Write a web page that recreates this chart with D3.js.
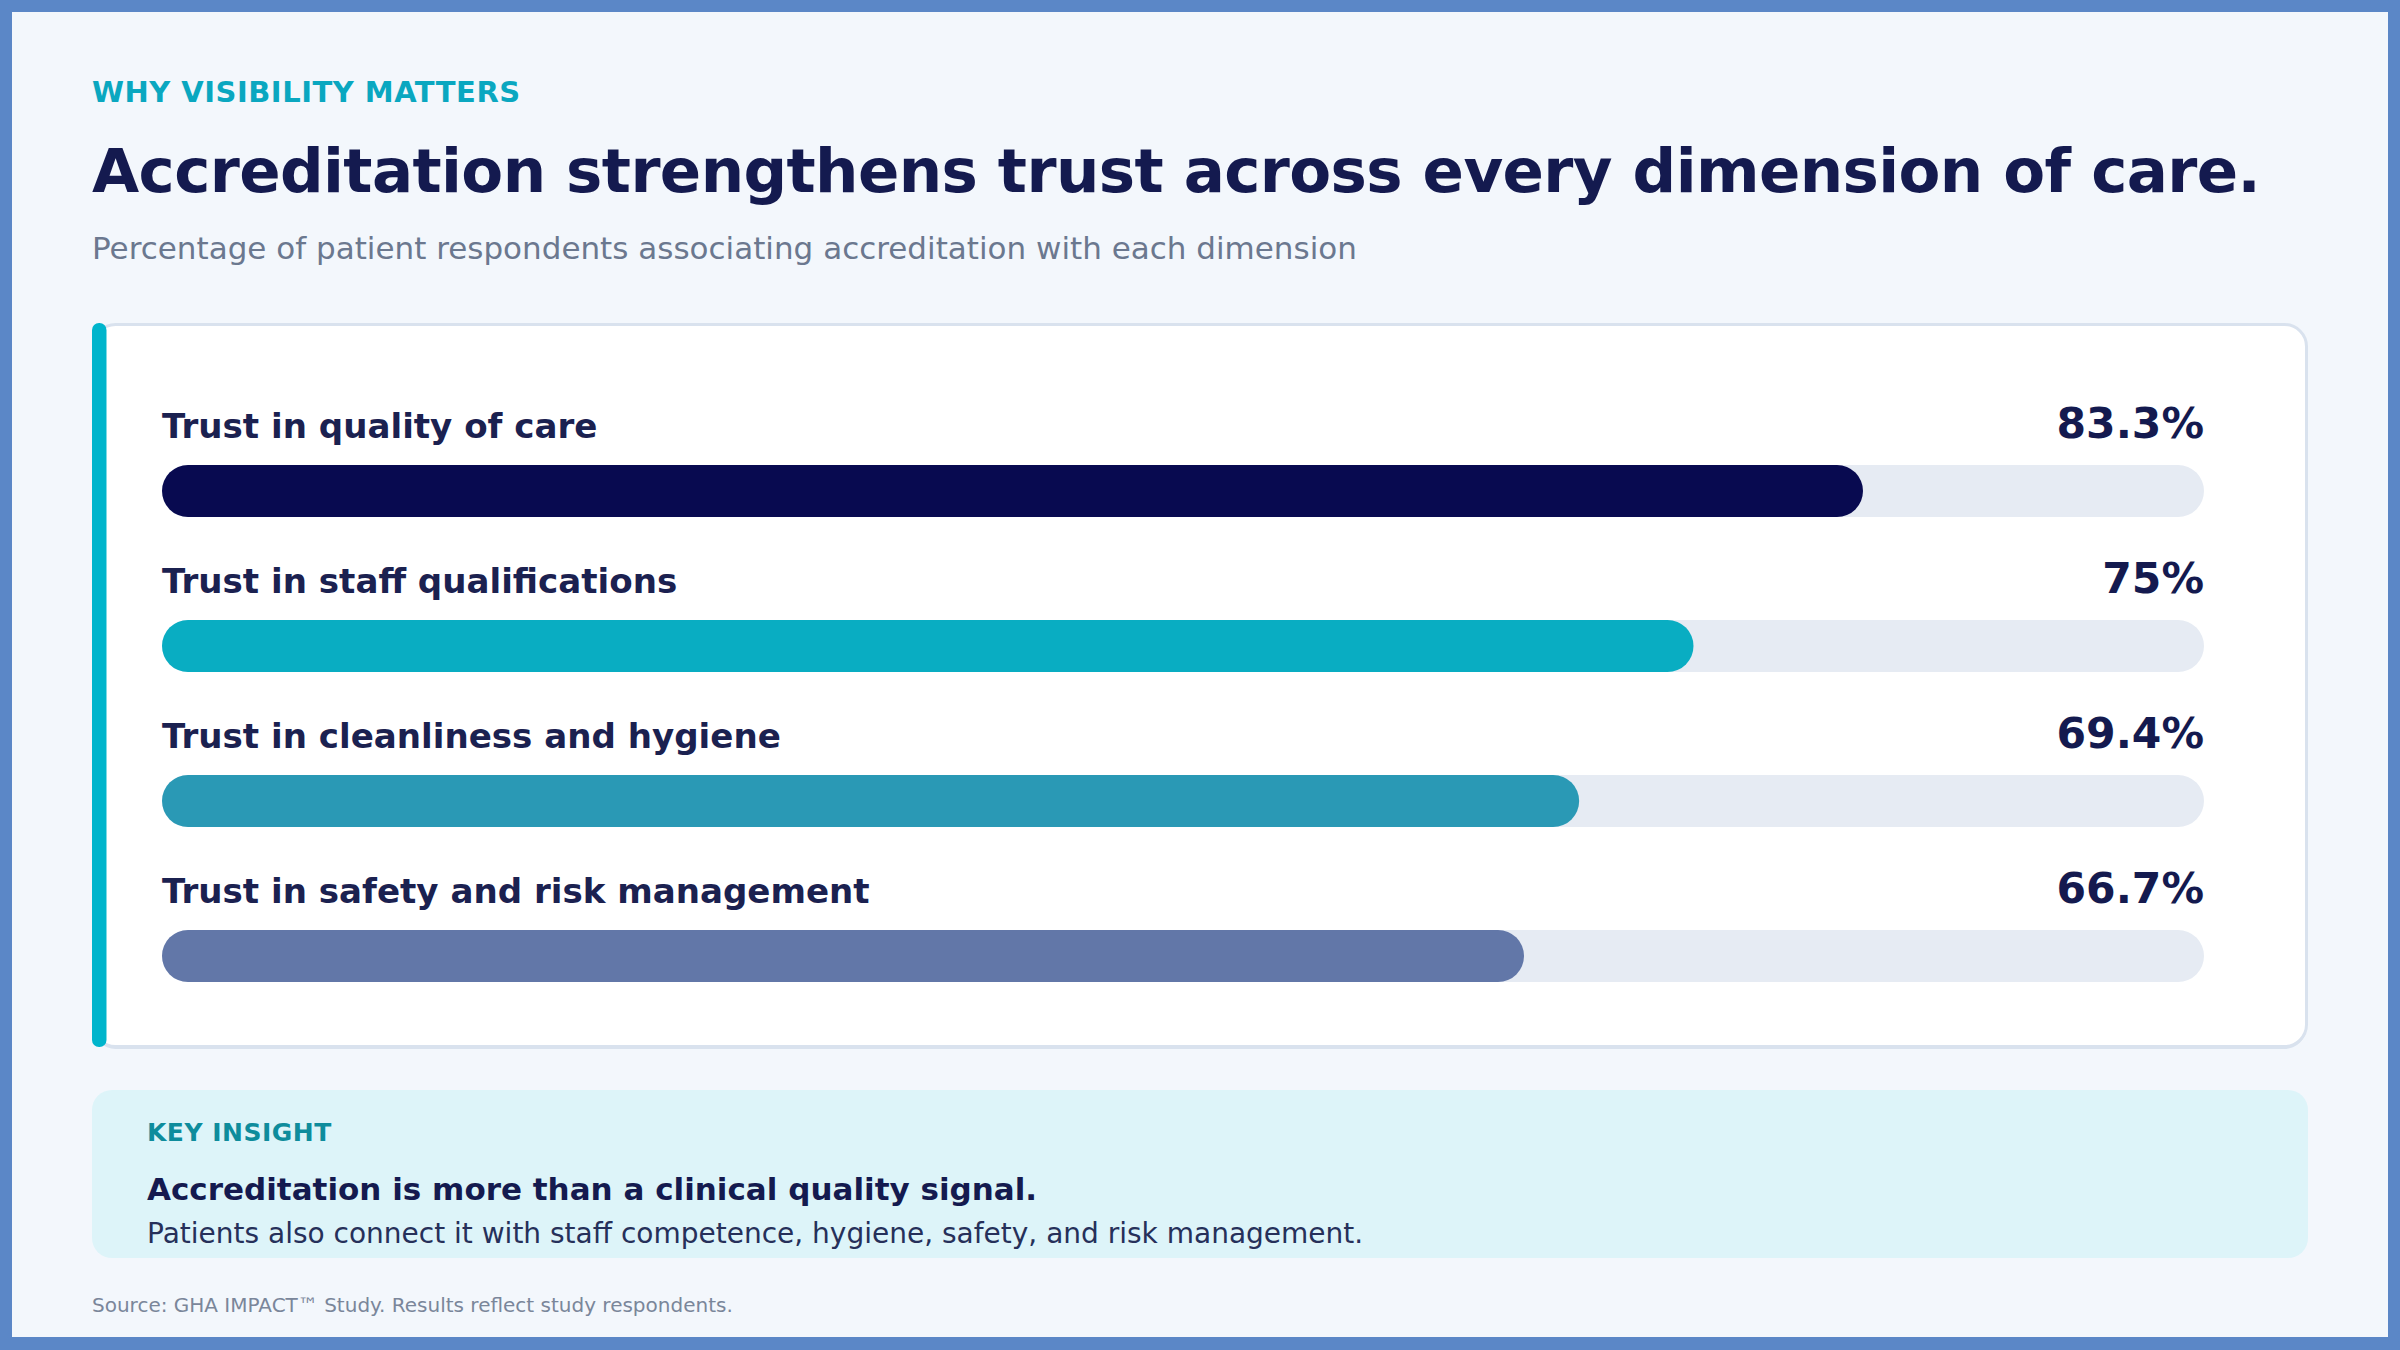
<!DOCTYPE html>
<html>
<head>
<meta charset="utf-8">
<script src="https://cdn.jsdelivr.net/npm/d3@7/dist/d3.min.js"></script>
<style>
  html, body { margin: 0; padding: 0; background: #f3f7fc; }
  svg { display: block; }
  text { font-family: "DejaVu Sans", sans-serif; }
</style>
</head>
<body>
<svg id="chart" width="2400" height="1350"></svg>
<script>
// ---- data ----
const categories = [
  "Trust in quality of care",
  "Trust in staff qualifications",
  "Trust in cleanliness and hygiene",
  "Trust in safety and risk management"
];
const values = [83.3, 75, 69.4, 66.7];
const valueLabels = ["83.3%", "75%", "69.4%", "66.7%"];
const barColors = ["#080a50", "#09adc2", "#2a99b5", "#6277a8"];

const eyebrow = "WHY VISIBILITY MATTERS";
const title = "Accreditation strengthens trust across every dimension of care.";
const subtitle = "Percentage of patient respondents associating accreditation with each dimension";
const insightKicker = "KEY INSIGHT";
const insightHead = "Accreditation is more than a clinical quality signal.";
const insightBody = "Patients also connect it with staff competence, hygiene, safety, and risk management.";
const source = "Source: GHA IMPACT\u2122 Study. Results reflect study respondents.";

// ---- drawing ----
const W = 2400, H = 1350;
const svg = d3.select("#chart");

// outer frame
svg.append("rect").attr("x", 0).attr("y", 0).attr("width", W).attr("height", H).attr("fill", "#5b87c7");
svg.append("rect").attr("x", 12).attr("y", 12).attr("width", W - 24).attr("height", H - 25).attr("fill", "#f3f7fc");

// header texts
svg.append("text").attr("x", 92).attr("y", 102)
  .attr("font-size", 29).attr("font-weight", "bold").attr("fill", "#0aa7c0")
  .attr("letter-spacing", 0.5).text(eyebrow);
svg.append("text").attr("x", 92).attr("y", 192)
  .attr("font-size", 61).attr("font-weight", "bold").attr("fill", "#141a4f")
  .attr("letter-spacing", -0.6).text(title);
svg.append("text").attr("x", 92).attr("y", 259)
  .attr("font-size", 31).attr("fill", "#6b788f").text(subtitle);

// card
const card = { x: 92, y: 323, w: 2216, h: 725 };
svg.append("rect").attr("x", card.x + 1.5).attr("y", card.y + 3).attr("width", card.w - 3).attr("height", card.h - 2)
  .attr("rx", 22).attr("fill", "#d9e2ee");
svg.append("rect").attr("x", card.x + 1.5).attr("y", card.y + 1.5).attr("width", card.w - 3).attr("height", card.h - 3)
  .attr("rx", 22).attr("fill", "#ffffff").attr("stroke", "#d9e2ee").attr("stroke-width", 3);
svg.append("rect").attr("x", 92).attr("y", card.y).attr("width", 14.5).attr("height", card.h - 1)
  .attr("rx", 7).attr("fill", "#00b5cc");

// scales
const x = d3.scaleLinear().domain([0, 100]).range([162, 2204]);
const y = d3.scaleBand().domain(categories).range([465, 465 + 155 * categories.length]).paddingInner(0);
const barH = 52;

const rows = svg.append("g").selectAll("g").data(categories).join("g")
  .attr("transform", d => `translate(0,${y(d)})`);

rows.append("rect").attr("x", x(0)).attr("y", 0).attr("width", x(100) - x(0)).attr("height", barH)
  .attr("rx", barH / 2).attr("fill", "#e6ebf3");
rows.append("rect").attr("x", x(0)).attr("y", 0)
  .attr("width", (d, i) => x(values[i]) - x(0)).attr("height", barH)
  .attr("rx", barH / 2).attr("fill", (d, i) => barColors[i]);
rows.append("text").attr("x", x(0)).attr("y", -27)
  .attr("font-size", 34.1).attr("font-weight", "bold").attr("fill", "#1b2150").text(d => d);
rows.append("text").attr("x", x(100)).attr("y", -27).attr("text-anchor", "end")
  .attr("font-size", 42.5).attr("font-weight", "bold").attr("fill", "#141a4f").text((d, i) => valueLabels[i]);

// insight box
svg.append("rect").attr("x", 92).attr("y", 1090).attr("width", 2216).attr("height", 168)
  .attr("rx", 20).attr("fill", "#ddf4f9");
svg.append("text").attr("x", 147).attr("y", 1141)
  .attr("font-size", 25).attr("font-weight", "bold").attr("fill", "#0e8c9c").attr("letter-spacing", 0.5).text(insightKicker);
svg.append("text").attr("x", 147).attr("y", 1200)
  .attr("font-size", 31).attr("font-weight", "bold").attr("fill", "#141a4f").text(insightHead);
svg.append("text").attr("x", 147).attr("y", 1243)
  .attr("font-size", 28).attr("fill", "#26305a").text(insightBody);

svg.append("text").attr("x", 92).attr("y", 1312)
  .attr("font-size", 20).attr("fill", "#7a869a").text(source);
</script>
</body>
</html>
